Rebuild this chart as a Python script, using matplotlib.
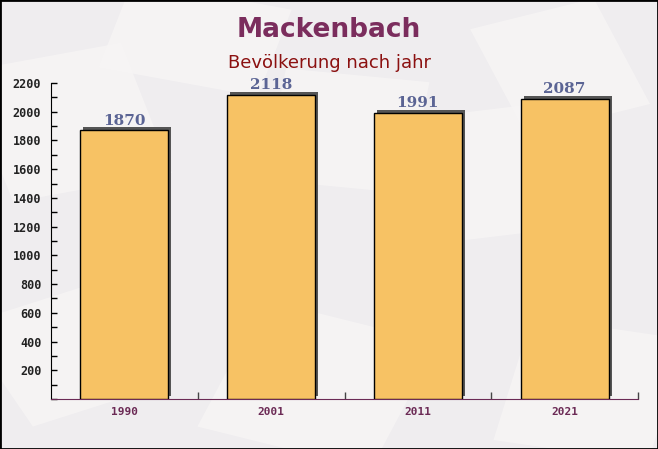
import matplotlib
matplotlib.use("Agg")
import matplotlib.pyplot as plt
import matplotlib.transforms as mtransforms
from matplotlib.patches import Rectangle
from matplotlib.ticker import MultipleLocator, FixedLocator, NullFormatter

years = ["1990", "2001", "2011", "2021"]
population = [1870, 2118, 1991, 2087]
y_ticks = [200, 400, 600, 800, 1000, 1200, 1400, 1600, 1800, 2000, 2200]

title = "Mackenbach"
subtitle = "Bevölkerung nach jahr"

fig = plt.figure(figsize=(6.58, 4.49), dpi=100)
fig.patch.set_facecolor("#efedef")

# faint decorative background shapes (behind everything)
deco = [(0.02, 0.55, 0.25, 0.3, 15), (0.3, 0.05, 0.28, 0.3, -20), (0.62, 0.45, 0.25, 0.28, 10),
        (0.75, 0.02, 0.24, 0.28, -12), (0.05, 0.05, 0.2, 0.25, 25), (0.4, 0.6, 0.22, 0.25, -8),
        (0.8, 0.7, 0.2, 0.25, 20), (0.15, 0.85, 0.25, 0.2, -15)]
for x0, y0, w, h, ang in deco:
    r = Rectangle((x0, y0), w, h, angle=ang, transform=fig.transFigure,
                  facecolor="#f7f5f5", edgecolor="none", alpha=0.8, zorder=-5)
    fig.patches.append(r)

ax = fig.add_axes([51/658, 1 - 399/449, (638-51)/658, (399-83)/449])
ax.set_facecolor("none")
ax.set_zorder(2)

x = list(range(len(years)))
width = 0.6

shadow_tr = ax.transData + mtransforms.ScaledTranslation(3/100, 3/100, fig.dpi_scale_trans)
ax.bar(x, population, width=width, color="#555555", transform=shadow_tr, zorder=2)
ax.bar(x, population, width=width, color="#f7c264", edgecolor="black",
       linewidth=1, zorder=3)

for xi, v in zip(x, population):
    ax.annotate(str(v), (xi, v), xytext=(0, 2), textcoords="offset points",
                ha="center", va="bottom", family="DejaVu Serif", fontweight="bold",
                fontsize=11, color="#5b6494", zorder=5)

ax.set_xlim(-0.5, len(years) - 0.5)
ax.set_ylim(0, 2200)

ax.yaxis.set_major_locator(FixedLocator(y_ticks))
ax.yaxis.set_minor_locator(MultipleLocator(100))
ax.set_yticklabels([str(t) for t in y_ticks], family="DejaVu Sans Mono",
                   fontweight="bold", fontsize=8.5, color="#222222")
ax.tick_params(axis="y", which="both", direction="in", length=4, width=1, color="black", pad=7)

ax.xaxis.set_major_locator(FixedLocator(x))
ax.set_xticklabels(years, family="DejaVu Sans Mono", fontweight="bold", fontsize=8,
                   color="#6b2a55")
ax.tick_params(axis="x", which="major", length=0, pad=6)
ax.xaxis.set_minor_locator(FixedLocator([i + 0.5 for i in x]))
ax.xaxis.set_minor_formatter(NullFormatter())
ax.tick_params(axis="x", which="minor", direction="in", length=5, width=1, color="#444444")

for s in ["top", "right"]:
    ax.spines[s].set_visible(False)
ax.spines["left"].set_color("black")
ax.spines["bottom"].set_color("#6b2a55")

fig.text(0.5, 1 - 30/449, title, ha="center", va="center", fontsize=19,
         fontweight="bold", color="#7b2d5d")
fig.text(0.5, 1 - 63/449, subtitle, ha="center", va="center", fontsize=13,
         color="#8b1010")

# border
fig.patches.append(Rectangle((0, 0), 1, 1, transform=fig.transFigure, fill=False,
                             edgecolor="black", linewidth=2, zorder=10))

fig.savefig("out.png", dpi=100, facecolor=fig.get_facecolor())
